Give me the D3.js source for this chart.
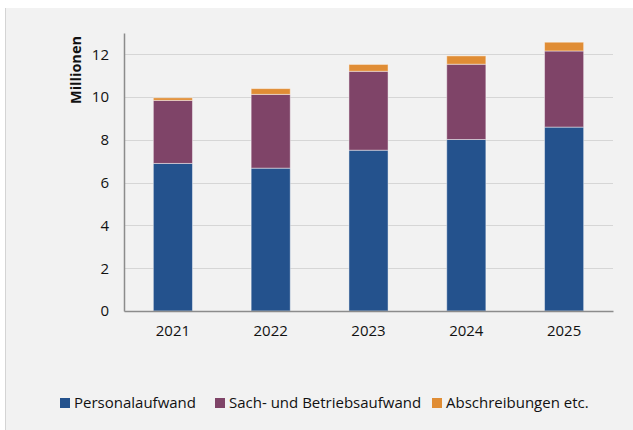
<!DOCTYPE html>
<html>
<head>
<meta charset="utf-8">
<script src="https://cdn.jsdelivr.net/npm/d3@7"></script>
<style>
  html, body { margin: 0; padding: 0; background: #fff; }
  svg { display: block; }
</style>
</head>
<body>
<div id="chart"></div>
<script>
var years = ['2021', '2022', '2023', '2024', '2025'];
var seriesNames = ['Personalaufwand', 'Sach- und Betriebsaufwand', 'Abschreibungen etc.'];
var personal = [6.90, 6.68, 7.52, 8.02, 8.60];
var sach = [2.95, 3.45, 3.69, 3.52, 3.56];
var abschr = [0.12, 0.27, 0.32, 0.39, 0.41];
var yTicks = [0, 2, 4, 6, 8, 10, 12];
var colors = ['#24528d', '#7f4468', '#e08d35'];

(function drawChart() {
  var W = 633, H = 430;
  var FONT = 'Open Sans, Liberation Sans, sans-serif';
  var m = { left: 124, right: 20, top: 33, bottom: 119 };

  var svg = d3.select('#chart').append('svg')
    .attr('width', W).attr('height', H);

  /* panel */
  svg.append('rect')
    .attr('x', 5).attr('y', 8).attr('width', W - 5).attr('height', H - 8)
    .attr('fill', '#f2f2f2');
  svg.append('line')
    .attr('x1', 5.5).attr('x2', 5.5).attr('y1', 8).attr('y2', H)
    .attr('stroke', '#d4d4d4');

  var x = d3.scaleBand().domain(years)
    .range([m.left, W - m.right])
    .paddingInner(0.6).paddingOuter(0.3);
  var y = d3.scaleLinear().domain([0, 13]).range([H - m.bottom, m.top]);

  /* gridlines */
  svg.append('g').selectAll('line')
    .data(yTicks.filter(function (t) { return t > 0; }))
    .join('line')
    .attr('x1', m.left).attr('x2', W - m.right)
    .attr('y1', function (d) { return Math.round(y(d)) + 0.5; })
    .attr('y2', function (d) { return Math.round(y(d)) + 0.5; })
    .attr('stroke', '#d6d6d6').attr('stroke-width', 1);

  /* stacked bars */
  var rows = years.map(function (yr, i) {
    return { year: yr, a: personal[i], b: sach[i], c: abschr[i] };
  });
  var stack = d3.stack().keys(['a', 'b', 'c'])(rows);

  svg.append('g').selectAll('g')
    .data(stack).join('g')
    .attr('fill', function (d, i) { return colors[i]; })
    .selectAll('rect')
    .data(function (d) { return d; })
    .join('rect')
    .attr('x', function (d) { return x(d.data.year); })
    .attr('width', x.bandwidth())
    .attr('y', function (d) { return y(d[1]); })
    .attr('height', function (d) { return y(d[0]) - y(d[1]); })
    .attr('stroke', 'rgba(255,255,255,0.45)')
    .attr('stroke-width', 1);

  /* axes */
  var yAxis = svg.append('g')
    .attr('transform', 'translate(' + m.left + ',0)')
    .call(d3.axisLeft(y).tickValues(yTicks).tickSize(0).tickPadding(15));
  yAxis.select('.domain').attr('stroke', '#8c8c8c').attr('stroke-width', 1.5);
  yAxis.selectAll('text')
    .attr('font-family', FONT).attr('font-size', 15).attr('fill', '#111');

  var xAxis = svg.append('g')
    .attr('transform', 'translate(0,' + y(0) + ')')
    .call(d3.axisBottom(x).tickSize(0).tickPadding(14));
  xAxis.select('.domain').attr('stroke', '#8c8c8c').attr('stroke-width', 1.5);
  xAxis.selectAll('text')
    .attr('font-family', FONT).attr('font-size', 15).attr('fill', '#111');

  /* y title */
  svg.append('text')
    .attr('transform', 'translate(81,70) rotate(-90)')
    .attr('text-anchor', 'middle')
    .attr('font-family', FONT).attr('font-size', 14.5).attr('font-weight', 'bold')
    .attr('fill', '#111')
    .text('Millionen');

  /* legend */
  var legX = [60, 215, 432];
  var leg = svg.append('g').selectAll('g')
    .data(seriesNames).join('g')
    .attr('transform', function (d, i) { return 'translate(' + legX[i] + ',398)'; });
  leg.append('rect')
    .attr('width', 10).attr('height', 10)
    .attr('fill', function (d, i) { return colors[i]; });
  leg.append('text')
    .attr('x', 14).attr('y', 10)
    .attr('font-family', FONT).attr('font-size', 15).attr('fill', '#111')
    .text(function (d) { return d; });
}());
</script>
</body>
</html>
